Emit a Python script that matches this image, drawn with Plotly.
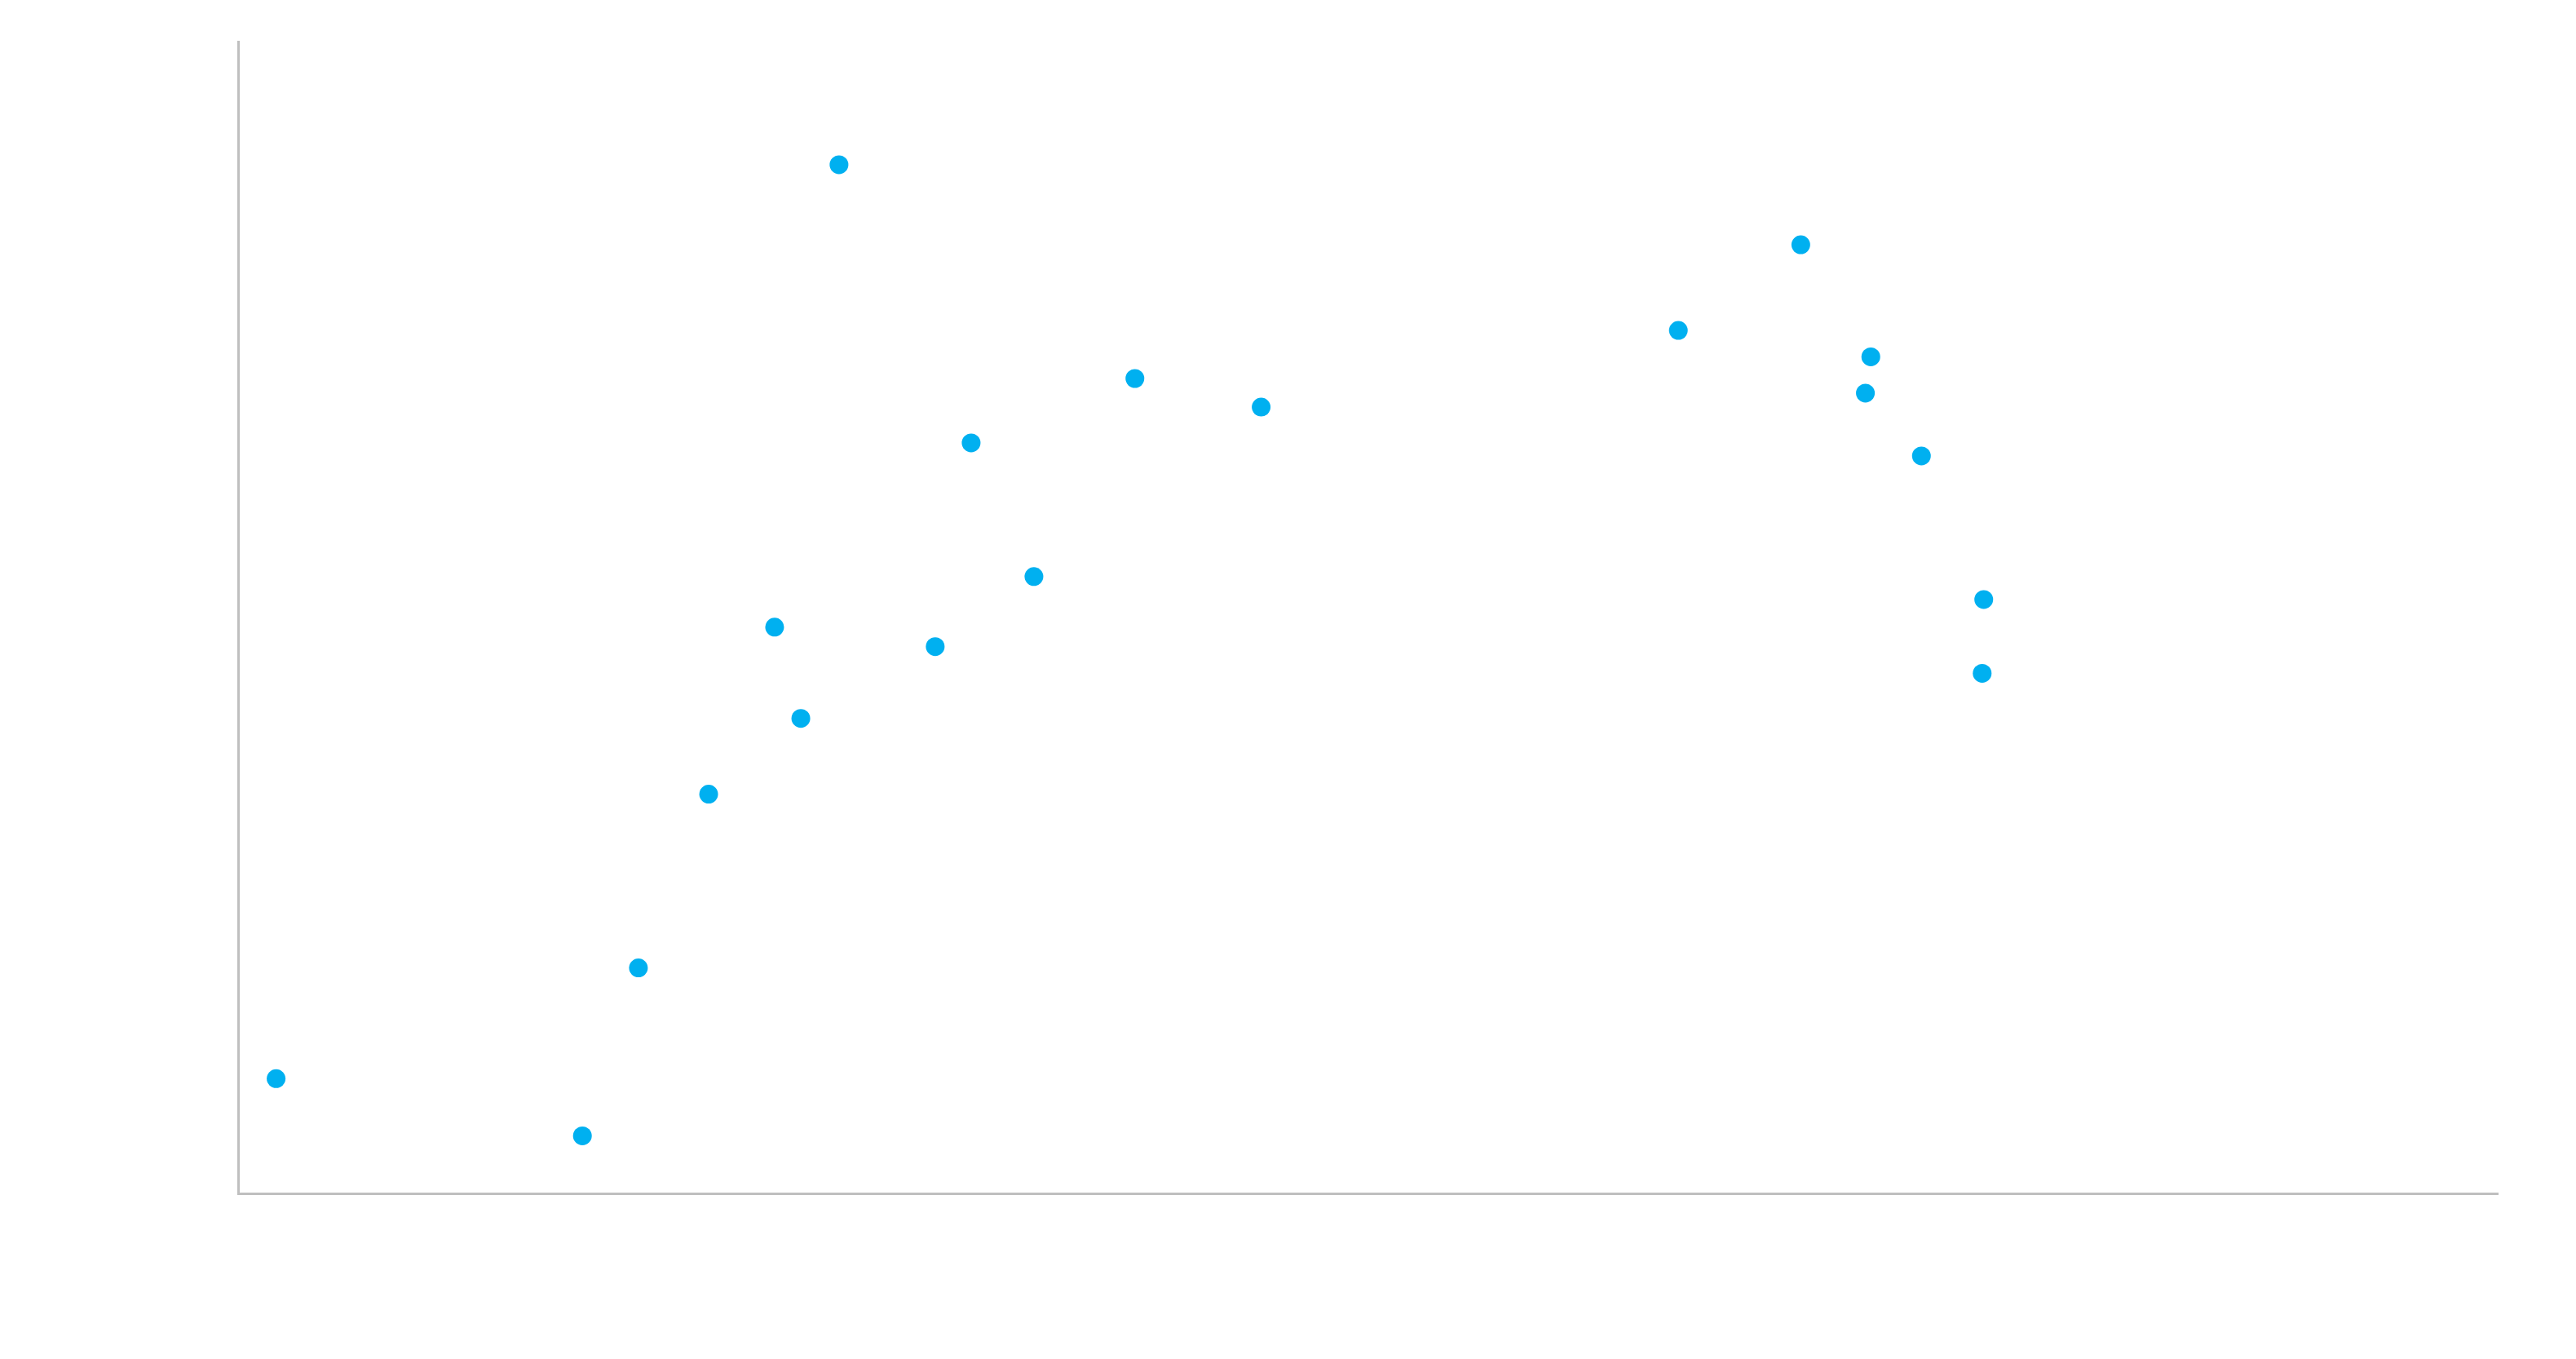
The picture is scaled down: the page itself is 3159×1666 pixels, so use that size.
import plotly.graph_objects as go

# Values (axis spans 0-100 on both axes)
x_values = [1.61, 15.17, 17.65, 20.76, 23.68, 24.84, 26.53, 30.79, 32.38, 35.16,
            39.63, 45.22, 63.69, 69.11, 71.97, 72.21, 74.45, 77.21, 77.14]
y_values = [9.89, 4.93, 19.51, 34.59, 49.09, 41.17, 89.24, 47.40, 65.09, 53.48,
            70.68, 68.20, 74.85, 82.29, 69.41, 72.56, 63.96, 51.49, 45.08]

x_range = [0, 100]
y_range = [0, 100]

fig = go.Figure(
    go.Scatter(
        x=x_values,
        y=y_values,
        mode="markers",
        marker=dict(color="#00B0F0", size=23, line=dict(width=0)),
        hoverinfo="x+y",
    )
)

axis_common = dict(
    showgrid=False,
    zeroline=False,
    showticklabels=False,
    ticks="",
    showline=True,
    linecolor="#BFBFBF",
    linewidth=2.5,
)

fig.update_layout(
    width=3143,
    height=1650,
    margin=dict(l=286, r=87, t=42, b=196),
    paper_bgcolor="white",
    plot_bgcolor="white",
    showlegend=False,
    xaxis=dict(range=x_range, **axis_common),
    yaxis=dict(range=y_range, **axis_common),
)

fig.write_html("out.html")
